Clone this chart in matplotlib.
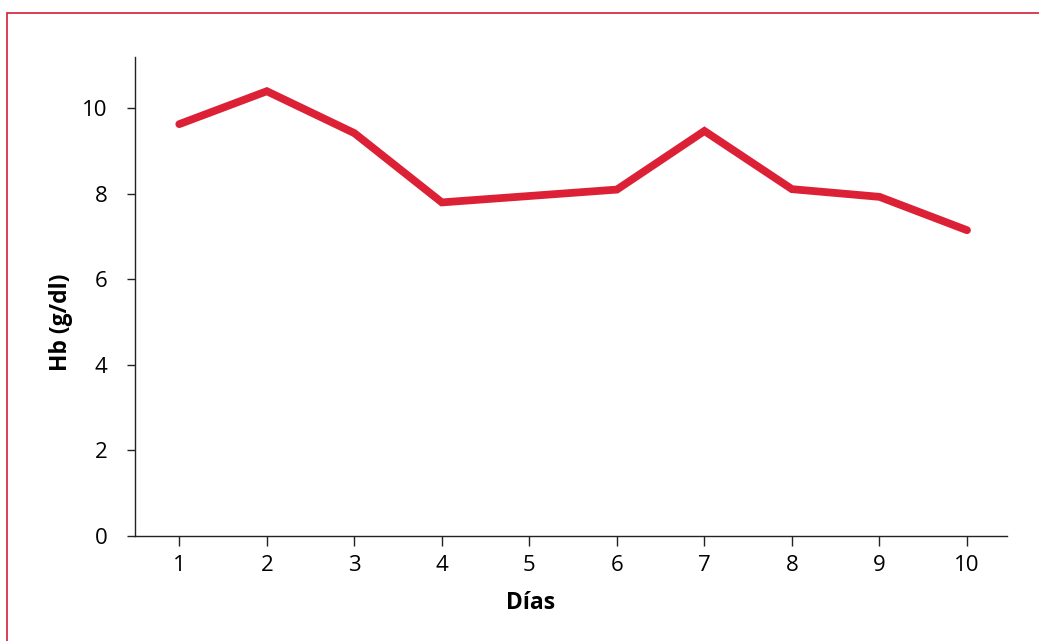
import matplotlib
matplotlib.use("Agg")
import matplotlib.pyplot as plt
from matplotlib.patches import Rectangle

dias = [1, 2, 3, 4, 5, 6, 7, 8, 9, 10]
hb = [9.63, 10.40, 9.42, 7.80, 7.95, 8.10, 9.47, 8.11, 7.93, 7.15]
yticks = [0, 2, 4, 6, 8, 10]

plt.rcParams['font.family'] = ['Open Sans', 'DejaVu Sans']

fig = plt.figure(figsize=(10.39, 6.41), dpi=100)
ax = fig.add_axes([135/1039, 1-536/641, (1007-135)/1039, (536-57)/641])

ax.plot(dias, hb, color='#DC2137', lw=5.6, solid_capstyle='round', solid_joinstyle='miter')

ax.set_xlim(0.494, 10.457)
ax.set_ylim(0, 11.2)
ax.set_xticks(dias)
ax.set_yticks(yticks)
for s in ['top', 'right']:
    ax.spines[s].set_visible(False)
for s in ['left', 'bottom']:
    ax.spines[s].set_linewidth(1.0)
    ax.spines[s].set_color('#222222')
ax.tick_params(axis='y', length=6, width=1.0, color='#222222', pad=14, labelsize=16)
ax.tick_params(axis='x', length=7, width=1.0, color='#222222', pad=7, labelsize=16)

ax.set_ylabel('Hb (g/dl)', fontsize=16.5, fontweight='bold', va='center')
ax.yaxis.set_label_coords((61-135)/872, 0.447)
ax.set_xlabel('Días', fontsize=16.5, fontweight='bold', va='center')
ax.xaxis.set_label_coords(0.454, (536-603)/479)

fig.patches.append(Rectangle((7/1039, -0.1), 1.2, 1 - 13/641 + 0.1, transform=fig.transFigure,
                             fill=False, edgecolor='#D31F3A', lw=1.2))

fig.savefig('out.png', dpi=100)
